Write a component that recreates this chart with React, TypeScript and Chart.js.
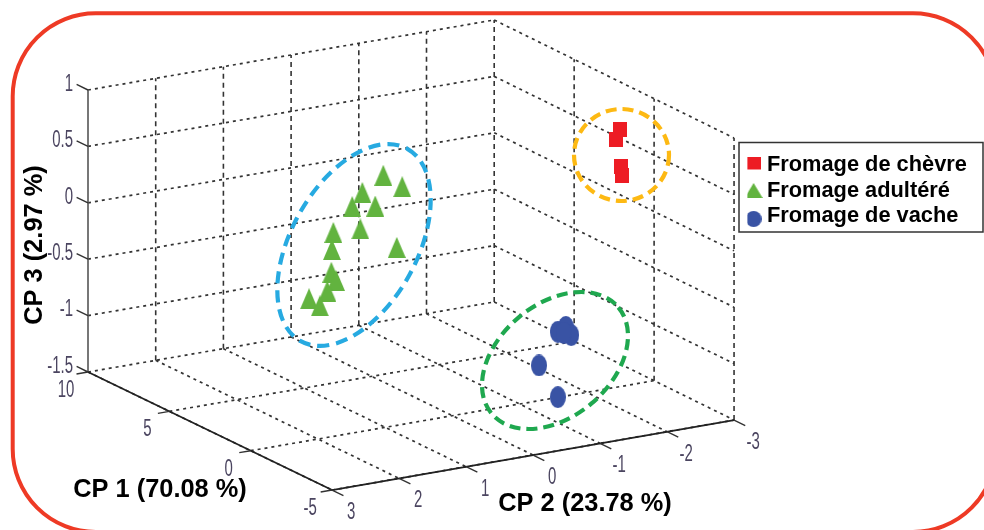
import React, { useEffect, useRef } from "react";
import { Chart, registerables } from "chart.js";

Chart.register(...registerables);

// Axis ticks
const cp1Ticks = [10, 5, 0, -5];
const cp2Ticks = [3, 2, 1, 0, -1, -2, -3];
const cp3Ticks = [1, 0.5, 0, -0.5, -1, -1.5];

// Fromage de chèvre
const chevreCP1 = [0, 0, 0, 0];
const chevreCP2 = [-2.49, -2.43, -2.51, -2.52];
const chevreCP3 = [0.78, 0.7, 0.45, 0.37];

// Fromage adultéré
const adultereCP1 = [6, 6, 6, 6, 6, 6, 6, 6, 6, 6, 6, 6, 6, 6];
const adultereCP2 = [-0.41, -0.69, -0.1, 0.05, -0.29, -0.07, -0.61, 0.33, 0.35, 0.36, 0.29, 0.42, 0.69, 0.53];
const adultereCP3 = [0.17, 0.04, 0.05, -0.06, -0.09, -0.27, -0.49, -0.26, -0.41, -0.61, -0.69, -0.77, -0.81, -0.89];

// Fromage de vache
const vacheCP1 = [-4, -4, -4, -4, -4, -4];
const vacheCP2 = [-0.61, -0.73, -0.81, -0.7, -0.33, -0.61];
const vacheCP3 = [-0.54, -0.51, -0.59, -0.56, -0.81, -1.12];

const seriesNames = ["Fromage de chèvre", "Fromage adultéré", "Fromage de vache"];
const axisTitles = ["CP 1 (70.08 %)", "CP 2 (23.78 %)", "CP 3 (2.97 %)"];

const SANS = '"Liberation Sans", Arial, sans-serif';
const W = 984;
const H = 530;

// Oblique projection of the 3D box on the page
function project(c1: number, c2: number, c3: number) {
  const a = 10 - c1;
  const b = 3 - c2;
  const k = 67 + (0.7 * (c1 + 5)) / 15;
  return {
    x: 88 + a * 16.27 + b * k,
    y: 372 + a * 7.87 - b * 11.67 - (c3 + 1.5) * 112.8,
  };
}

const gap = { x: null as any, y: null as any };
const zMin = cp3Ticks[cp3Ticks.length - 1];
const zMax = cp3Ticks[0];
const c1Max = cp1Ticks[0];
const c1Min = cp1Ticks[cp1Ticks.length - 1];
const c2Max = cp2Ticks[0];
const c2Min = cp2Ticks[cp2Ticks.length - 1];

function segs(list: [number, number, number, number, number, number][]) {
  const out: any[] = [];
  list.forEach(([a, b, c, d, e, f]) => {
    out.push(project(a, b, c), project(d, e, f), gap);
  });
  return out;
}

function along(xs: number[], fn: (v: number) => [number, number, number, number, number, number]) {
  return xs.map(fn);
}

const flatGrid = segs([
  ...along(cp3Ticks, (z) => [c1Max, c2Max, z, c1Max, c2Min, z]),
  ...along(cp3Ticks, (z) => [c1Max, c2Min, z, c1Min, c2Min, z]),
  ...along(cp1Ticks, (v) => [v, c2Max, zMin, v, c2Min, zMin]),
  ...along(cp2Ticks, (v) => [c1Max, v, zMin, c1Min, v, zMin]),
]);

const verticalGrid = segs([
  ...along(cp2Ticks.slice(1), (v) => [c1Max, v, zMin, c1Max, v, zMax]),
  ...along(cp1Ticks.slice(1), (v) => [v, c2Min, zMin, v, c2Min, zMax]),
]);

const zAxis = segs([[c1Max, c2Max, zMin, c1Max, c2Max, zMax]]);
const floorAxes = segs([
  [c1Max, c2Max, zMin, c1Min, c2Max, zMin],
  [c1Min, c2Max, zMin, c1Min, c2Min, zMin],
]);
const tickMarks = segs([
  ...along(cp3Ticks, (z) => [c1Max, c2Max, z, c1Max + 0.7, c2Max, z]),
  ...along(cp1Ticks, (v) => [v, c2Max, zMin, v, c2Max + 0.17, zMin]),
  ...along(cp2Ticks, (v) => [c1Min, v, zMin, c1Min - 0.7, v, zMin]),
]);

function pts(a: number[], b: number[], c: number[]) {
  return a.map((v, i) => project(v, b[i], c[i]));
}

function sprite(w: number, h: number, draw: (c: CanvasRenderingContext2D) => void) {
  const cv = document.createElement("canvas");
  cv.width = w;
  cv.height = h;
  const c = cv.getContext("2d")!;
  draw(c);
  return cv;
}

function tri(w: number, h: number, color: string) {
  return sprite(w, h, (c) => {
    c.fillStyle = color;
    c.beginPath();
    c.moveTo(w / 2, 0);
    c.lineTo(w, h);
    c.lineTo(0, h);
    c.closePath();
    c.fill();
  });
}

function oval(w: number, h: number, dy: number, color: string) {
  return sprite(w, h + Math.abs(dy) * 2, (c) => {
    c.fillStyle = color;
    c.beginPath();
    c.ellipse(w / 2, h / 2 + Math.abs(dy) + dy, w / 2, h / 2, 0, 0, Math.PI * 2);
    c.fill();
  });
}

function box(w: number, h: number, dy: number, color: string) {
  return sprite(w, h + Math.abs(dy) * 2, (c) => {
    c.fillStyle = color;
    c.fillRect(0, Math.abs(dy) + dy, w, h);
  });
}

const RED = "#ed1c24";
const GREEN = "#62b33f";
const BLUE = "#3953a4";

const framePlugin = {
  id: "frame",
  afterLayout(chart: any) {
    const l = chart.legend;
    l.left = 747.4;
    l.right = 983;
    l.top = 150.4;
    l.bottom = 232;
  },
  beforeDraw(chart: any) {
    const c = chart.ctx;
    c.save();
    c.strokeStyle = "#333333";
    c.lineWidth = 1.5;
    c.strokeRect(739, 142.5, 244, 89.5);
    c.restore();
  },
  afterDatasetsDraw(chart: any) {
    const c = chart.ctx;
    const sx = chart.scales.x;
    const sy = chart.scales.y;

    const ell = (cx: number, cy: number, a: number, b: number, deg: number, color: string, dash: number[]) => {
      c.save();
      c.strokeStyle = color;
      c.lineWidth = 4.2;
      c.setLineDash(dash);
      c.beginPath();
      c.ellipse(sx.getPixelForValue(cx), sy.getPixelForValue(cy), a, b, (deg * Math.PI) / 180, 0, Math.PI * 2);
      c.stroke();
      c.restore();
    };
    ell(354, 245, 110, 63, -61, "#27aae1", [12, 7]);
    ell(621.5, 155, 47.5, 46, 0, "#fdb913", [11, 6]);
    ell(555, 360.5, 82.7, 56.4, -40, "#1fa84f", [11, 6]);

    const label = (text: string, x: number, y: number, align: CanvasTextAlign) => {
      c.save();
      c.translate(x, y + 1.5);
      c.scale(0.65, 1);
      c.font = `23px ${SANS}`;
      c.fillStyle = "#4b4560";
      c.textAlign = align;
      c.textBaseline = "middle";
      c.fillText(text, 0, 0);
      c.restore();
    };
    cp3Ticks.forEach((v) => {
      const p = project(c1Max, c2Max, v);
      label(String(v), 73, p.y - 7, "right");
    });
    cp1Ticks.forEach((v) => {
      const p = project(v, c2Max, zMin);
      label(String(v), p.x - 22, p.y + 17, "center");
    });
    cp2Ticks.forEach((v) => {
      const p = project(c1Min, v, zMin);
      label(String(v), p.x + 19, p.y + 21, "center");
    });

    c.save();
    c.font = `bold 25.4px ${SANS}`;
    c.fillStyle = "#000000";
    c.textAlign = "center";
    c.textBaseline = "middle";
    c.fillText(axisTitles[0], 160, 490);
    c.fillText(axisTitles[1], 585, 504);
    c.translate(35, 245);
    c.rotate(-Math.PI / 2);
    c.fillText(axisTitles[2], 0, 0);
    c.restore();
  },
  afterDraw(chart: any) {
    const c = chart.ctx;
    c.save();
    c.strokeStyle = "#ee3a25";
    c.lineWidth = 4;
    c.beginPath();
    (c as any).roundRect(12.7, 13.3, 983.3, 518.7, 83);
    c.stroke();
    c.restore();
  },
};

export default function App() {
  const ref = useRef<HTMLCanvasElement>(null);

  useEffect(() => {
    const line = (data: any[], color: string, width: number, dash: number[]) => ({
      data,
      showLine: true,
      spanGaps: false,
      borderColor: color,
      borderWidth: width,
      borderDash: dash,
      pointRadius: 0,
      pointHoverRadius: 0,
    });
    const markers = (label: string, data: any[], style: any, key: any) => ({
      label,
      data,
      pointStyle: style,
      legendStyle: key,
      pointBackgroundColor: "#000",
      showLine: false,
    });

    const chart = new Chart(ref.current!, {
      type: "scatter",
      data: {
        datasets: [
          markers(seriesNames[0], pts(chevreCP1, chevreCP2, chevreCP3), box(14, 15, 0, RED), box(14, 13, -2, RED)),
          markers(seriesNames[1], pts(adultereCP1, adultereCP2, adultereCP3), tri(18, 21, GREEN), tri(18, 15, GREEN)),
          markers(seriesNames[2], pts(vacheCP1, vacheCP2, vacheCP3), oval(16, 22, 0, BLUE), oval(16, 16, 3, BLUE)),
          line(tickMarks, "#333333", 1.4, []),
          line(floorAxes, "#222222", 1.8, []),
          line(zAxis, "#555555", 1.6, []),
          line(verticalGrid, "#333333", 1.6, [5, 4]),
          line(flatGrid, "#333333", 1.7, [3, 4]),
        ] as any,
      },
      options: {
        animation: false,
        responsive: false,
        maintainAspectRatio: false,
        layout: { padding: 0, autoPadding: false },
        events: [],
        scales: {
          x: { type: "linear", display: false, min: 0, max: W },
          y: { type: "linear", display: false, min: 0, max: H, reverse: true },
        },
        plugins: {
          title: { display: false },
          tooltip: { enabled: false },
          legend: {
            display: true,
            position: "chartArea" as any,
            align: "start",
            labels: {
              usePointStyle: true,
              pointStyleWidth: 5,
              padding: 3.7,
              color: "#000000",
              font: { family: SANS, size: 21.8, weight: "bold", lineHeight: 1 },
              generateLabels(c: any) {
                return c.data.datasets
                  .map((d: any, i: number) => ({ d, i }))
                  .filter((o: any) => o.d.legendStyle)
                  .map((o: any) => ({
                    text: o.d.label,
                    datasetIndex: o.i,
                    pointStyle: o.d.legendStyle,
                    fillStyle: "#000",
                    strokeStyle: "#000",
                    fontColor: "#000000",
                    lineWidth: 0,
                    hidden: false,
                  }));
              },
            },
          },
        },
      },
      plugins: [framePlugin],
    } as any);
    return () => chart.destroy();
  }, []);

  return (
    <div style={{ position: "absolute", left: 0, top: 0, width: W, height: H, overflow: "hidden", background: "#fff" }}>
      <canvas ref={ref} width={W} height={H} style={{ display: "block" }} />
    </div>
  );
}
